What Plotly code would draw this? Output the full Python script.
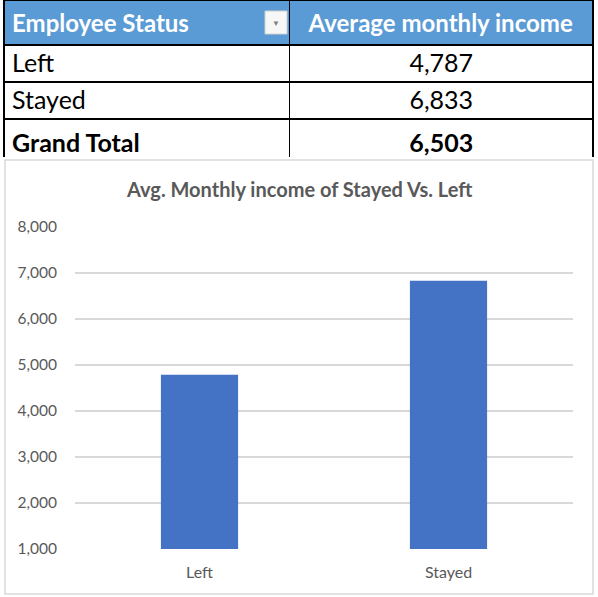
import plotly.graph_objects as go

# pivot table data
columns = ["Employee Status", "Average monthly income"]
status = ["Left", "Stayed", "Grand Total"]
avg_income = [4787, 6833, 6503]

# chart data
categories = ["Left", "Stayed"]
chart_values = [4787, 6833]
y_ticks = [1000, 2000, 3000, 4000, 5000, 6000, 7000, 8000]

W, H = 598, 597
FONT = "Lato"
GREY = "#595959"
HEAD_BLUE = "#5B9BD5"


def px(x0, y0, x1, y1):
    # pixel box -> paper coords
    return dict(x0=x0 / W, x1=x1 / W, y0=1 - y1 / H, y1=1 - y0 / H)


def bold(s):
    return "<b>" + s + "</b>"


fig = go.Figure()

# ---- pivot table ----
col1, col2 = [], []
for s, v in zip(status, avg_income):
    t = f"{v:,}"
    if s == "Grand Total":
        col1.append(bold(s))
        col2.append(bold(t))
    else:
        col1.append(s)
        col2.append(t)

fig.add_trace(go.Table(
    domain=dict(x=[4 / W, 593 / W], y=[1 - 157 / H, 1.0]),
    columnwidth=[285, 303],
    header=dict(
        values=[bold(c) for c in columns],
        fill_color=HEAD_BLUE,
        line=dict(color="black", width=1.5),
        font=dict(family=FONT, size=24, color="white"),
        align=["left", "center"],
        height=35,
    ),
    cells=dict(
        values=[col1, col2],
        fill_color="white",
        line=dict(color="black", width=1.5),
        font=dict(family=FONT, size=25, color="black"),
        align=["left", "center"],
        height=37,
    ),
))

# ---- bar chart ----
fig.add_trace(go.Bar(
    x=categories, y=chart_values,
    marker=dict(color="#4472C4", line=dict(width=0)),
    width=0.31,
    xaxis="x", yaxis="y",
))

fig.update_layout(
    width=W, height=H,
    margin=dict(l=0, r=0, t=0, b=0, pad=0, autoexpand=False),
    paper_bgcolor="white",
    plot_bgcolor="white",
    showlegend=False,
    font=dict(family=FONT, color=GREY),
    xaxis=dict(
        domain=[75 / W, 573 / W],
        anchor="y",
        showgrid=False, showline=False, zeroline=False,
        tickfont=dict(size=16, color=GREY),
        ticks="outside", ticklen=9, tickcolor="rgba(0,0,0,0)",
    ),
    yaxis=dict(
        domain=[1 - 549 / H, 1 - 227 / H],
        anchor="x",
        range=[1000, 8000],
        tickvals=y_ticks,
        tickformat=",",
        showgrid=True, gridcolor="#D9D9D9", gridwidth=1.5,
        zeroline=False, showline=False,
        tickfont=dict(size=15.5, color=GREY),
        ticks="outside", ticklen=14, tickcolor="rgba(0,0,0,0)",
    ),
    annotations=[
        dict(text="<b>Avg. Monthly income of Stayed Vs. Left</b>",
             x=299 / W, y=1 - 189 / H, xref="paper", yref="paper",
             xanchor="center", yanchor="middle",
             showarrow=False, font=dict(size=20, color=GREY, family=FONT)),
        dict(text="▼", x=276 / W, y=1 - 23 / H, xref="paper", yref="paper",
             xanchor="center", yanchor="middle",
             showarrow=False, font=dict(size=8, color="#7F7F7F")),
    ],
    shapes=[
        # chart border
        dict(type="rect", xref="paper", yref="paper", layer="below",
             line=dict(color="#D9D9D9", width=1.5), fillcolor="white",
             **px(5, 160, 593, 594)),
        # filter dropdown button
        dict(type="rect", xref="paper", yref="paper", layer="above",
             line=dict(color="#D0D0D0", width=1), fillcolor="#F7F7F7",
             **px(265, 11, 287, 34)),
    ],
)

fig.write_html(
    "out.html",
    config={"displayModeBar": False},
    post_script="document.body.style.margin='0';"
                "document.body.style.overflow='hidden';",
)
